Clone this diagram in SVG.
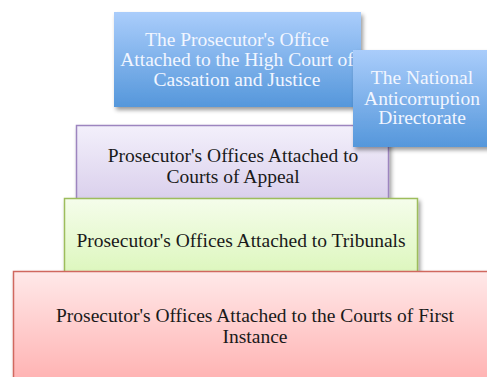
<svg xmlns="http://www.w3.org/2000/svg" width="487" height="377" viewBox="0 0 487 377">
<defs>
<linearGradient id="gBlue" x1="0" y1="0" x2="0" y2="1"><stop offset="0" stop-color="#aacdfb"/><stop offset="1" stop-color="#5597db"/></linearGradient>
<linearGradient id="gPurple" x1="0" y1="0" x2="0" y2="1"><stop offset="0" stop-color="#f3f0fb"/><stop offset="1" stop-color="#d8cdeb"/></linearGradient>
<linearGradient id="gGreen" x1="0" y1="0" x2="0" y2="1"><stop offset="0" stop-color="#f5fdeb"/><stop offset="1" stop-color="#dbf6ba"/></linearGradient>
<linearGradient id="gRed" x1="0" y1="0" x2="0" y2="1"><stop offset="0" stop-color="#ffe9e9"/><stop offset="1" stop-color="#ffb2b2"/></linearGradient>
<filter id="sh" x="-10%" y="-10%" width="130%" height="130%"><feGaussianBlur in="SourceAlpha" stdDeviation="2"/><feOffset dx="2" dy="3" result="b"/><feComponentTransfer><feFuncA type="linear" slope="0.4"/></feComponentTransfer><feMerge><feMergeNode/><feMergeNode in="SourceGraphic"/></feMerge></filter>
</defs>
<style>
text{font-family:"Liberation Serif","DejaVu Serif",serif;font-size:19.5px;text-anchor:middle}
.w{fill:#f2f6ff}
.k{fill:#1a1a1a}
</style>
<g id="node-high-court">
<rect x="114" y="12" width="247" height="95" fill="url(#gBlue)" filter="url(#sh)"/>
<text class="w" x="237" y="46">The Prosecutor's Office</text>
<text class="w" x="237" y="66">Attached to the High Court of</text>
<text class="w" x="237" y="86">Cassation and Justice</text>
</g>
<g id="node-appeal">
<rect x="76.5" y="125.5" width="312" height="80" fill="url(#gPurple)" stroke="#9d85bf" stroke-width="1.5" filter="url(#sh)"/>
<text class="k" x="233" y="162">Prosecutor's Offices Attached to</text>
<text class="k" x="233" y="183">Courts of Appeal</text>
</g>
<g id="node-tribunals">
<rect x="64.5" y="198.5" width="353" height="80" fill="url(#gGreen)" stroke="#9dbd5c" stroke-width="1.5" filter="url(#sh)"/>
<text class="k" x="241" y="247">Prosecutor's Offices Attached to Tribunals</text>
</g>
<g id="node-first-instance">
<rect x="13.5" y="271.5" width="480" height="110" fill="url(#gRed)" stroke="#d0675f" stroke-width="1.5" filter="url(#sh)"/>
<text class="k" x="255" y="322">Prosecutor's Offices Attached to the Courts of First</text>
<text class="k" x="255" y="343">Instance</text>
</g>
<g id="node-dna">
<rect x="353" y="50" width="140" height="97" fill="url(#gBlue)" filter="url(#sh)"/>
<text class="w" x="422" y="84">The National</text>
<text class="w" x="422" y="105">Anticorruption</text>
<text class="w" x="422" y="124">Directorate</text>
</g>
<g id="connectors"/>
</svg>
